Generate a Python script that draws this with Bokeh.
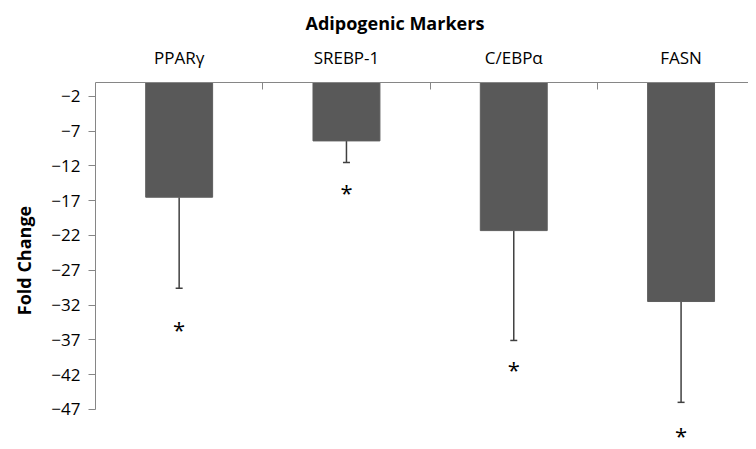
from bokeh.plotting import figure
from bokeh.models import Range1d, FixedTicker, ColumnDataSource, Whisker, TeeHead, Spacer
from bokeh.layouts import row
from bokeh.core.properties import value
from bokeh.embed import file_html
from bokeh.resources import INLINE
import numpy as np

# ---- data ----
categories = ["PPARγ", "SREBP-1", "C/EBPα", "FASN"]
fold_change = [-16.5, -8.4, -21.3, -31.5]
error = [13.1, 3.1, 15.8, 14.5]
sig_y = [-35.0, -15.3, -40.8, -50.2]
sig_text = ["*", "*", "*", "*"]
y_ticks = [-47, -42, -37, -32, -27, -22, -17, -12, -7, -2]
title_text = "Adipogenic Markers"
y_label = "Fold Change"

FONT = "Open Sans"
AXIS_GRAY = "#868686"
xpos = np.arange(len(categories)) + 0.5
lower = np.array(fold_change) - np.array(error)

p = figure(frame_width=653, frame_height=356, output_backend="svg",
           toolbar_location=None,
           x_range=Range1d(0, 3.903), y_range=Range1d(-51.2, 0),
           x_axis_location="above", title=title_text,
           min_border_left=0, min_border_right=0, min_border_top=77,
           min_border_bottom=0)
p.outline_line_color = None
p.grid.visible = False
p.background_fill_color = "white"

p.title.align = "left"
p.title.offset = 210
p.title.text_font = FONT
p.title.text_font_size = "18px"
p.title.text_font_style = "bold"
p.title.text_color = "black"
p.title.standoff = 16

src = ColumnDataSource(dict(x=xpos, top=[0] * len(xpos), bottom=fold_change,
                            lower=lower, sig=sig_y, txt=sig_text))

p.vbar(x="x", top="top", bottom="bottom", width=0.4, source=src,
       fill_color="#595959", line_color="#5e5e5e", line_width=1)

wh = Whisker(base="x", upper="bottom", lower="lower", source=src,
             line_color="#404040", line_width=1.5, upper_head=None,
             lower_head=TeeHead(size=7, line_color="#404040", line_width=1.5))
p.add_layout(wh)

p.text(x="x", y="sig", text="txt", source=src, text_align="center",
       text_baseline="middle", text_font=value(FONT), text_font_size="22px",
       text_color="black", y_offset=3)

# x axis (top)
xa = p.xaxis[0]
xa.ticker = FixedTicker(ticks=list(xpos), minor_ticks=[1, 2, 3])
xa.major_label_overrides = {float(x): c for x, c in zip(xpos, categories)}
xa.major_tick_line_color = None
xa.minor_tick_in = 7
xa.minor_tick_out = 0
xa.minor_tick_line_color = AXIS_GRAY
xa.axis_line_color = AXIS_GRAY
xa.major_label_text_font = FONT
xa.major_label_text_font_size = "17px"
xa.major_label_text_color = "black"
xa.major_label_standoff = 8

# y axis
ya = p.yaxis[0]
ya.ticker = FixedTicker(ticks=y_ticks, minor_ticks=[])
ya.bounds = (-47, 0)
ya.major_tick_out = 7
ya.major_tick_in = 0
ya.minor_tick_line_color = None
ya.major_tick_line_color = AXIS_GRAY
ya.axis_line_color = AXIS_GRAY
ya.major_label_text_font = FONT
ya.major_label_text_font_size = "17px"
ya.major_label_text_color = "black"
ya.major_label_standoff = 8
ya.axis_label = y_label
ya.axis_label_text_font = FONT
ya.axis_label_text_font_size = "18px"
ya.axis_label_text_font_style = "bold"
ya.axis_label_text_color = "black"
ya.axis_label_standoff = 12

layout = row(Spacer(width=9, height=10), p)
open("out.html", "w").write(file_html(layout, INLINE))
